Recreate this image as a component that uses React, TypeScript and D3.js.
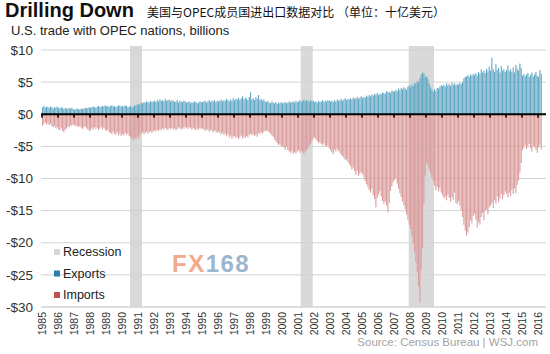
import React from "react";
import * as d3 from "d3";

// monthly values, billions of dollars, Jan 1985 .. Mar 2016
const exportsMonthly = [
  1.1, 1.3, 1.0, 1.2, 1.1, 1.0, 1.2, 1.1, 0.9, 1.1, 1.0, 1.2, // 1985
  1.0, 0.9, 1.1, 1.0, 0.8, 1.0, 0.9, 0.8, 1.0, 0.9, 1.0, 0.8, // 1986
  0.7, 0.8, 0.9, 0.8, 0.7, 0.9, 0.8, 0.9, 1.0, 0.9, 1.0, 1.1, // 1987
  1.0, 1.1, 1.2, 1.1, 1.0, 1.2, 1.3, 1.1, 1.2, 1.3, 1.2, 1.4, // 1988
  1.2, 1.3, 1.1, 1.3, 1.4, 1.2, 1.3, 1.1, 1.2, 1.4, 1.3, 1.2, // 1989
  1.3, 1.2, 1.4, 1.3, 1.1, 1.2, 1.3, 1.0, 1.2, 1.4, 1.3, 1.5, // 1990
  1.6, 1.5, 1.8, 1.7, 1.9, 1.8, 2.0, 1.9, 1.8, 2.1, 1.9, 2.0, // 1991
  2.1, 1.9, 2.2, 2.0, 2.3, 2.1, 2.2, 2.0, 2.4, 2.1, 2.2, 2.3, // 1992
  2.0, 2.2, 2.1, 1.9, 2.0, 2.2, 1.8, 2.1, 2.0, 1.9, 2.1, 2.0, // 1993
  1.8, 1.9, 2.0, 1.7, 1.9, 1.8, 2.0, 1.9, 1.7, 1.8, 2.0, 1.9, // 1994
  1.9, 2.0, 2.1, 1.8, 2.0, 2.2, 1.9, 2.1, 2.0, 2.2, 1.9, 2.1, // 1995
  2.0, 2.1, 2.3, 2.0, 2.2, 2.1, 2.4, 2.2, 2.0, 2.3, 2.1, 2.5, // 1996
  2.2, 2.4, 2.3, 2.6, 2.2, 2.5, 2.8, 2.3, 2.6, 2.4, 2.2, 2.7, // 1997
  3.4, 2.3, 2.5, 2.2, 2.7, 2.4, 3.0, 2.2, 2.4, 2.1, 2.3, 2.0, // 1998
  1.9, 2.1, 1.8, 1.7, 2.0, 1.8, 1.7, 1.9, 1.6, 1.8, 1.7, 1.9, // 1999
  1.7, 1.8, 1.9, 1.7, 1.8, 2.0, 1.8, 1.9, 2.0, 1.8, 2.1, 1.9, // 2000
  2.0, 2.2, 1.9, 2.1, 2.3, 2.0, 2.2, 2.1, 1.9, 2.2, 2.0, 2.1, // 2001
  1.9, 2.0, 1.8, 2.1, 1.9, 2.0, 2.2, 1.9, 2.1, 2.0, 2.2, 2.1, // 2002
  2.0, 2.1, 1.9, 2.2, 2.0, 2.3, 2.1, 2.2, 2.4, 2.1, 2.3, 2.5, // 2003
  2.2, 2.4, 2.3, 2.5, 2.3, 2.6, 2.4, 2.5, 2.7, 2.4, 2.6, 2.8, // 2004
  2.5, 2.7, 2.6, 2.9, 2.7, 3.0, 2.8, 3.1, 2.9, 3.2, 3.0, 3.3, // 2005
  3.0, 3.2, 3.1, 3.4, 3.3, 3.2, 3.6, 3.4, 3.5, 3.3, 3.7, 3.6, // 2006
  3.5, 3.8, 3.6, 4.0, 3.7, 4.1, 3.9, 4.2, 4.0, 3.8, 4.3, 4.5, // 2007
  4.2, 4.6, 4.4, 4.9, 4.7, 5.2, 5.0, 5.6, 6.2, 6.5, 6.3, 5.8, // 2008
  5.9, 5.5, 4.8, 4.2, 3.8, 3.5, 3.9, 3.6, 4.1, 4.0, 4.3, 4.5, // 2009
  4.4, 4.6, 4.3, 4.8, 4.5, 4.7, 4.4, 4.9, 4.6, 4.8, 4.5, 4.7, // 2010
  4.6, 4.9, 4.7, 5.0, 5.6, 5.8, 5.9, 6.1, 5.8, 6.2, 6.0, 6.3, // 2011
  6.1, 6.4, 6.0, 6.6, 6.3, 7.0, 6.5, 6.8, 6.4, 7.1, 6.7, 7.4, // 2012
  6.8, 8.8, 7.0, 6.6, 7.8, 6.9, 7.2, 6.5, 7.5, 6.8, 7.0, 6.6, // 2013
  6.9, 7.6, 6.7, 7.0, 6.6, 7.3, 6.5, 7.7, 7.1, 6.8, 7.9, 7.2, // 2014
  6.0, 6.3, 5.9, 6.2, 6.4, 5.8, 6.1, 6.5, 5.9, 6.2, 6.6, 6.0, // 2015
  5.8, 6.9, 6.3, // 2016
];

const importsMonthly = [
  -1.8, -1.5, -1.3, -1.6, -1.4, -1.7, -1.5, -1.9, -2.0, -1.8, -2.2, -2.0, // 1985
  -2.3, -2.5, -2.1, -2.6, -2.8, -2.4, -2.2, -1.9, -2.0, -1.7, -1.8, -1.6, // 1986
  -1.7, -1.9, -1.8, -2.0, -1.8, -2.1, -2.3, -2.0, -1.9, -2.2, -2.4, -2.6, // 1987
  -2.5, -2.2, -2.4, -2.0, -2.3, -2.1, -2.5, -2.2, -2.0, -2.3, -2.1, -2.4, // 1988
  -2.6, -2.4, -2.8, -2.9, -3.1, -2.7, -3.0, -3.2, -2.8, -3.3, -3.0, -3.4, // 1989
  -3.1, -3.3, -2.9, -3.2, -3.0, -3.4, -3.6, -3.8, -4.1, -3.7, -3.9, -3.5, // 1990
  -3.8, -3.2, -3.0, -2.8, -3.1, -2.9, -2.7, -3.0, -2.8, -2.6, -2.9, -2.7, // 1991
  -2.5, -2.7, -2.4, -2.6, -2.3, -2.5, -2.2, -2.4, -2.1, -2.3, -2.5, -2.2, // 1992
  -2.3, -2.1, -2.4, -2.2, -2.5, -2.3, -2.0, -2.2, -2.4, -2.1, -2.3, -2.0, // 1993
  -2.1, -2.3, -2.0, -2.2, -2.4, -2.1, -2.3, -2.5, -2.2, -2.4, -2.1, -2.3, // 1994
  -2.2, -2.4, -2.6, -2.3, -2.5, -2.7, -2.4, -2.6, -2.8, -2.5, -2.7, -2.9, // 1995
  -2.7, -2.9, -3.1, -2.8, -3.2, -3.0, -3.4, -3.1, -3.6, -3.3, -3.8, -3.5, // 1996
  -3.4, -3.7, -3.5, -3.9, -3.6, -3.3, -3.8, -3.5, -3.7, -3.4, -3.6, -3.2, // 1997
  -3.0, -3.3, -3.1, -3.4, -3.2, -3.5, -2.9, -3.1, -2.8, -3.0, -2.7, -2.6, // 1998
  -2.5, -2.7, -2.8, -3.0, -3.3, -3.5, -3.9, -4.2, -4.5, -4.8, -4.6, -5.0, // 1999
  -4.9, -5.2, -5.5, -5.1, -5.6, -5.8, -6.0, -5.7, -6.2, -5.9, -6.1, -5.8, // 2000
  -5.6, -6.0, -5.7, -5.9, -6.2, -5.8, -5.6, -5.3, -5.0, -4.6, -4.2, -3.8, // 2001
  -3.6, -3.9, -4.2, -4.5, -4.3, -4.6, -4.8, -4.5, -4.9, -5.1, -4.8, -5.3, // 2002
  -5.6, -5.9, -6.2, -5.5, -5.8, -5.4, -5.7, -6.0, -6.3, -6.5, -6.8, -7.1, // 2003
  -7.0, -7.4, -7.8, -8.1, -8.6, -8.3, -8.9, -9.4, -8.8, -9.6, -9.2, -9.0, // 2004
  -9.3, -9.8, -10.4, -10.9, -11.3, -11.8, -12.2, -11.6, -12.6, -13.2, -14.5, -13.0, // 2005
  -12.5, -12.0, -12.8, -13.5, -14.0, -13.6, -14.2, -15.3, -13.8, -11.9, -11.2, -10.6, // 2006
  -10.2, -9.9, -10.8, -11.6, -12.3, -12.9, -13.6, -14.2, -14.8, -15.6, -16.4, -17.2, // 2007
  -17.8, -18.9, -20.1, -21.5, -23.0, -24.6, -26.8, -29.3, -24.2, -20.8, -14.0, -9.6, // 2008
  -7.6, -8.1, -8.6, -9.2, -9.9, -10.4, -11.1, -11.8, -11.3, -12.0, -11.5, -12.2, // 2009
  -12.6, -13.1, -12.8, -13.4, -12.5, -13.0, -13.6, -12.9, -13.3, -12.2, -13.8, -14.0, // 2010
  -13.5, -14.2, -15.0, -16.0, -17.2, -18.1, -18.9, -18.4, -17.6, -16.5, -17.0, -15.8, // 2011
  -15.5, -16.4, -17.6, -16.8, -17.2, -16.0, -15.4, -16.5, -15.0, -14.8, -15.6, -14.5, // 2012
  -14.2, -13.8, -14.6, -13.4, -13.9, -12.8, -13.7, -13.1, -12.4, -13.2, -12.6, -12.0, // 2013
  -12.4, -12.9, -12.2, -12.7, -11.8, -12.4, -11.5, -12.3, -11.0, -10.3, -9.1, -7.6, // 2014
  -5.6, -5.2, -4.8, -5.4, -5.0, -4.6, -5.3, -5.8, -4.9, -5.1, -5.5, -6.0, // 2015
  -5.2, -4.8, -5.5, // 2016
];

const yearLabels = [
  1985, 1986, 1987, 1988, 1989, 1990, 1991, 1992, 1993, 1994, 1995, 1996,
  1997, 1998, 1999, 2000, 2001, 2002, 2003, 2004, 2005, 2006, 2007, 2008,
  2009, 2010, 2011, 2012, 2013, 2014, 2015, 2016,
];
const yTicks = [10, 5, 0, -5, -10, -15, -20, -25, -30];
// start / end of recessions, decimal years
const recessions = [
  [1990.5, 1991.25],
  [2001.17, 2001.92],
  [2007.92, 2009.5],
];
const legendItems = [
  { label: "Recession", color: "#d6d6d6" },
  { label: "Exports", color: "#2b7ea8" },
  { label: "Imports", color: "#c2504f" },
];

const W = 550;
const H = 354;
const font = "Arial, 'Liberation Sans', Helvetica, sans-serif";

const App = () => {
  const x = d3.scaleLinear().domain([1985, 2016]).range([42, 538]);
  const y = d3.scaleLinear().domain([-30, 10]).range([307, 50]);
  const step = x(1985 + 1 / 12) - x(1985);
  const monthX = (i: number) => x(1985 + i / 12);
  const left = 41;
  const right = 546;

  return (
    <svg
      width={W}
      height={H}
      style={{ position: "absolute", left: 0, top: 0, background: "#fff" }}
      fontFamily={font}
    >
      {/* titles */}
      <text x={5} y={17} fontSize={20} fontWeight="bold" fill="#111">
        Drilling Down
      </text>
      <text x={147} y={17} fontSize={12} fill="#111" fontFamily="'Noto Sans CJK SC', sans-serif">
        美国与OPEC成员国进出口数据对比 （单位：十亿美元）
      </text>
      <text x={11} y={35} fontSize={13} fill="#222">
        U.S. trade with OPEC nations, billions
      </text>

      {/* recession bands */}
      {recessions.map(([a, b], i) => (
        <rect key={i} x={x(a)} y={46} width={x(b) - x(a)} height={y(-30) - 46} fill="#d9d9d9" />
      ))}

      {/* grid */}
      {yTicks.map((t) => (
        <g key={t}>
          {t !== 0 && (
            <line x1={left} x2={right} y1={y(t)} y2={y(t)} stroke="#d3d3d3" strokeWidth={t === -30 ? 1.5 : 1} />
          )}
          <text x={33} y={y(t)} dy="0.35em" textAnchor="end" fontSize={13.5} fill="#333">
            {t < 0 ? `-$${-t}` : `$${t}`}
          </text>
        </g>
      ))}

      {/* bars */}
      {exportsMonthly.map((v, i) => (
        <rect key={"e" + i} x={monthX(i)} y={y(v)} width={step * 0.85} height={y(0) - y(v)} fill="#66a9c5" />
      ))}
      {importsMonthly.map((v, i) => (
        <rect key={"m" + i} x={monthX(i)} y={y(0)} width={step * 0.85} height={y(v) - y(0)} fill="#dc9fa0" />
      ))}

      {/* zero line and year ticks */}
      <line x1={left} x2={right} y1={y(0)} y2={y(0)} stroke="#000" strokeWidth={2} />
      {yearLabels.map((yr) => (
        <g key={yr}>
          <line x1={x(yr)} x2={x(yr)} y1={y(0)} y2={y(0) + 3.5} stroke="#000" strokeWidth={1.5} />
          <text
            transform={`translate(${x(yr)},312) rotate(-90)`}
            textAnchor="end"
            dy="0.35em"
            fontSize={10.5}
            fill="#333"
          >
            {yr}
          </text>
        </g>
      ))}

      {/* legend */}
      {legendItems.map((d, i) => {
        const cy = 252 + i * 21.5;
        return (
          <g key={d.label}>
            <rect x={54} y={cy - 3} width={6} height={6} fill={d.color} />
            <text x={63} y={cy} dy="0.35em" fontSize={12.5} fill="#222">
              {d.label}
            </text>
          </g>
        );
      })}

      {/* watermark */}
      <text x={172} y={272} fontSize={24} fontWeight="bold" letterSpacing={1.5}>
        <tspan fill="#f3a98c">FX</tspan>
        <tspan fill="#9cb6cd">168</tspan>
      </text>

      {/* source */}
      <text x={538} y={346} textAnchor="end" fontSize={11.5} fill="#a3a3a3">
        Source: Census Bureau  |  WSJ.com
      </text>
    </svg>
  );
};

export default App;
